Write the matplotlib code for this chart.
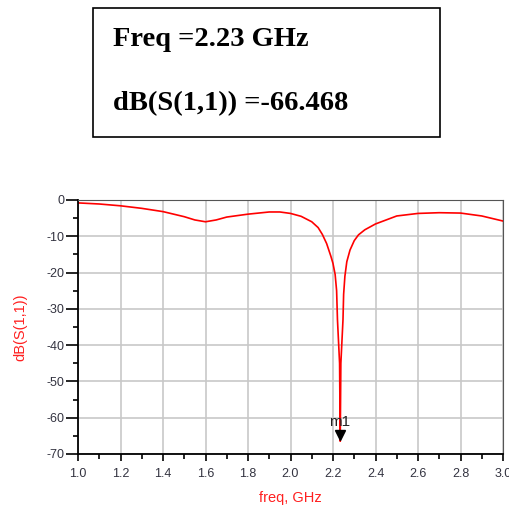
import matplotlib
matplotlib.use("Agg")
import matplotlib.pyplot as plt
from matplotlib.patches import Rectangle
from matplotlib.ticker import MultipleLocator

plt.rcParams["axes.unicode_minus"] = False

# S11
freq = [1.0, 1.1, 1.2, 1.3, 1.4, 1.5, 1.55, 1.6, 1.65, 1.7, 1.8, 1.9, 1.95,
        2.0, 2.05, 2.1, 2.13, 2.15, 2.17, 2.19, 2.2, 2.21, 2.217, 2.221,
        2.231, 2.234, 2.237, 2.247, 2.25, 2.256, 2.265, 2.28, 2.3, 2.32,
        2.35, 2.4, 2.5, 2.6, 2.7, 2.8, 2.9, 3.0]
s11_db = [-0.8, -1.1, -1.6, -2.3, -3.2, -4.6, -5.5, -6.0, -5.5, -4.7, -3.9,
          -3.3, -3.3, -3.7, -4.5, -6.0, -7.6, -9.5, -12.0, -15.5, -17.5,
          -20.5, -25.0, -33.0, -45.0, -66.468, -45.0, -33.0, -26.0, -21.0,
          -17.0, -13.8, -11.2, -9.6, -8.2, -6.6, -4.4, -3.7, -3.5, -3.6,
          -4.4, -5.8]

m1_freq = 2.234
m1_db = -66.468
box_lines = ["Freq =2.23 GHz", "dB(S(1,1)) =-66.468"]

fig = plt.figure(figsize=(5.09, 5.08), dpi=100)
ax = fig.add_axes([78/509, 1-454/508, 425/509, 254/508])

ax.plot(freq, s11_db, color="#ff0000", lw=1.2)
ax.plot([m1_freq], [m1_db + 1.6], marker="v", color="black", ms=7, ls="none")
ax.text(m1_freq - 0.005, m1_db + 3.4, "m1", ha="center", va="bottom",
        fontsize=11, family="Liberation Sans", color="#222222")

ax.set_xlim(1.0, 3.0)
ax.set_ylim(-70, 0)
ax.xaxis.set_major_locator(MultipleLocator(0.2))
ax.xaxis.set_minor_locator(MultipleLocator(0.1))
ax.yaxis.set_major_locator(MultipleLocator(10))
ax.yaxis.set_minor_locator(MultipleLocator(5))
ax.set_xticks([1.0, 1.2, 1.4, 1.6, 1.8, 2.0, 2.2, 2.4, 2.6, 2.8, 3.0])
ax.set_xticklabels(["1.0", "1.2", "1.4", "1.6", "1.8", "2.0", "2.2", "2.4",
                    "2.6", "2.8", "3.0"])
ax.grid(True, which="major", color="#c8c8c8", lw=1.2)
ax.set_axisbelow(True)

ax.tick_params(axis="y", which="major", length=8.5, width=1.2, pad=1,
               labelsize=9, labelcolor="#333340")
ax.tick_params(axis="y", which="minor", length=3.6, width=1.2)
ax.tick_params(axis="x", which="major", length=5, width=1.2, pad=5,
               labelsize=9, labelcolor="#333340")
ax.tick_params(axis="x", which="minor", length=3.5, width=1.2)
for lab in ax.get_xticklabels() + ax.get_yticklabels():
    lab.set_family("Liberation Sans")

ax.spines["left"].set_linewidth(1.3)
ax.spines["bottom"].set_linewidth(1.3)
ax.spines["top"].set_color("#555555")
ax.spines["right"].set_color("#555555")

ax.set_xlabel("freq, GHz", color="#ff2020", fontsize=10.5,
              family="Liberation Sans", labelpad=8)
ax.set_ylabel("dB(S(1,1))", color="#ff2020", fontsize=10.5,
              family="Liberation Sans", labelpad=14)

# marker readout box
fig.patches.append(Rectangle((93/509, 1-137/508), 347/509, 129/508,
                             transform=fig.transFigure, fill=False,
                             ec="black", lw=1.2))
fig.text(113/509, 1-40/508, box_lines[0], ha="left", va="center",
         fontsize=20.5, weight="bold", family="Liberation Serif")
fig.text(113/509, 1-104/508, box_lines[1], ha="left", va="center",
         fontsize=20.5, weight="bold", family="Liberation Serif")

fig.savefig("out.png", dpi=100)
